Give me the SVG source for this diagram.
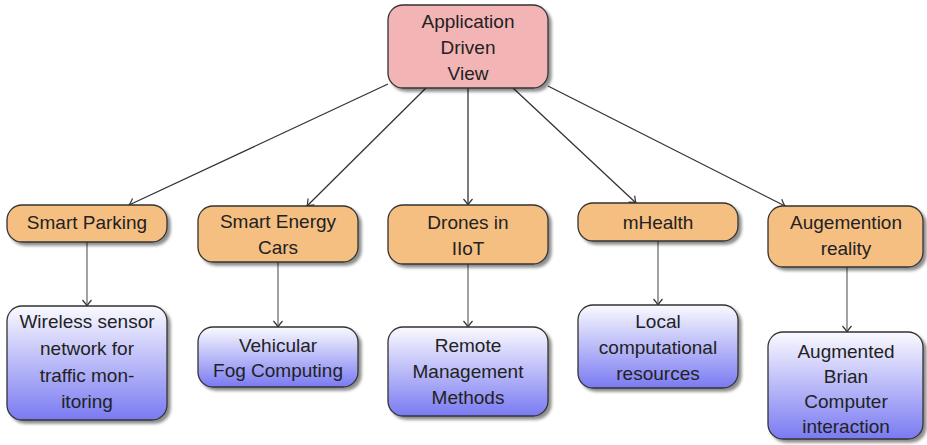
<svg xmlns="http://www.w3.org/2000/svg" width="927" height="445" viewBox="0 0 927 445">
<style>
.box{stroke:#333;stroke-width:1.3}
.root{fill:#f3b4b6}
.mid{fill:#f6bf82}
.leaf{fill:url(#blue)}
text{font-family:"Liberation Sans",Arial,sans-serif;font-size:19px;fill:#222;text-anchor:middle}
.edge{fill:none;stroke:#333;stroke-width:1.3;marker-end:url(#arr)}
.edge2{fill:none;stroke:#555;stroke-width:1.1;marker-end:url(#arr)}
</style>
<defs>
<linearGradient id="blue" x1="0" y1="0" x2="0" y2="1">
<stop offset="0" stop-color="#fafaff"/>
<stop offset="1" stop-color="#7a7af2"/>
</linearGradient>
<filter id="sh" x="-10%" y="-10%" width="125%" height="130%">
<feGaussianBlur in="SourceAlpha" stdDeviation="1.5"/>
<feOffset dx="2.5" dy="2.5" result="b"/>
<feComponentTransfer><feFuncA type="linear" slope="0.45"/></feComponentTransfer>
<feMerge><feMergeNode/><feMergeNode in="SourceGraphic"/></feMerge>
</filter>
<marker id="arr" viewBox="-8 -6 10 12" refX="0" refY="0" markerWidth="10" markerHeight="12" markerUnits="userSpaceOnUse" orient="auto">
<path d="M-6,-4.5 Q-2,-1 0,0 Q-2,1 -6,4.5" fill="none" stroke="#333" stroke-width="1.2"/>
</marker>
</defs>

<g id="connectors">
<line class="edge" x1="388" y1="84" x2="129" y2="205"/>
<line class="edge" x1="426" y1="88" x2="307" y2="206"/>
<line class="edge" x1="468" y1="88" x2="468" y2="205"/>
<line class="edge" x1="513" y1="88" x2="636" y2="203"/>
<line class="edge" x1="548" y1="86" x2="785" y2="206"/>
<line class="edge2" x1="87" y1="242" x2="87" y2="306"/>
<line class="edge2" x1="278" y1="262" x2="278" y2="327"/>
<line class="edge2" x1="468" y1="264" x2="468" y2="327"/>
<line class="edge2" x1="658" y1="241" x2="658" y2="305"/>
<line class="edge2" x1="847" y1="267" x2="847" y2="332"/>
</g>

<g id="root">
<rect class="box root" x="388" y="5" width="160" height="83" rx="15" filter="url(#sh)"/>
<text x="468" y="28">Application</text>
<text x="468" y="54">Driven</text>
<text x="468" y="80">View</text>
</g>

<g id="smart-parking">
<rect class="box mid" x="7" y="205" width="160" height="37" rx="15" filter="url(#sh)"/>
<text x="87" y="229">Smart Parking</text>
</g>
<g id="smart-energy">
<rect class="box mid" x="198" y="206" width="160" height="56" rx="15" filter="url(#sh)"/>
<text x="278" y="228">Smart Energy</text>
<text x="278" y="254">Cars</text>
</g>
<g id="drones">
<rect class="box mid" x="388" y="205" width="160" height="59" rx="15" filter="url(#sh)"/>
<text x="468" y="229">Drones in</text>
<text x="468" y="255">IIoT</text>
</g>
<g id="mhealth">
<rect class="box mid" x="578" y="203" width="160" height="38" rx="15" filter="url(#sh)"/>
<text x="658" y="229">mHealth</text>
</g>
<g id="augmention">
<rect class="box mid" x="768" y="206" width="155" height="61" rx="15" filter="url(#sh)"/>
<text x="846" y="229">Augemention</text>
<text x="846" y="255">reality</text>
</g>

<g id="wireless">
<rect class="box leaf" x="7" y="306" width="160" height="114" rx="15" filter="url(#sh)"/>
<text x="87" y="328">Wireless sensor</text>
<text x="87" y="355">network for</text>
<text x="87" y="382">traffic mon-</text>
<text x="87" y="408">itoring</text>
</g>
<g id="vehicular">
<rect class="box leaf" x="198" y="327" width="160" height="60" rx="15" filter="url(#sh)"/>
<text x="278" y="352">Vehicular</text>
<text x="278" y="377">Fog Computing</text>
</g>
<g id="remote">
<rect class="box leaf" x="388" y="327" width="160" height="89" rx="15" filter="url(#sh)"/>
<text x="468" y="352">Remote</text>
<text x="468" y="378">Management</text>
<text x="468" y="404">Methods</text>
</g>
<g id="local">
<rect class="box leaf" x="578" y="305" width="160" height="83" rx="15" filter="url(#sh)"/>
<text x="658" y="328">Local</text>
<text x="658" y="354">computational</text>
<text x="658" y="380">resources</text>
</g>
<g id="augmented">
<rect class="box leaf" x="768" y="332" width="155" height="107" rx="15" filter="url(#sh)"/>
<text x="846" y="358">Augmented</text>
<text x="846" y="383">Brian</text>
<text x="846" y="408">Computer</text>
<text x="846" y="433">interaction</text>
</g>
</svg>
